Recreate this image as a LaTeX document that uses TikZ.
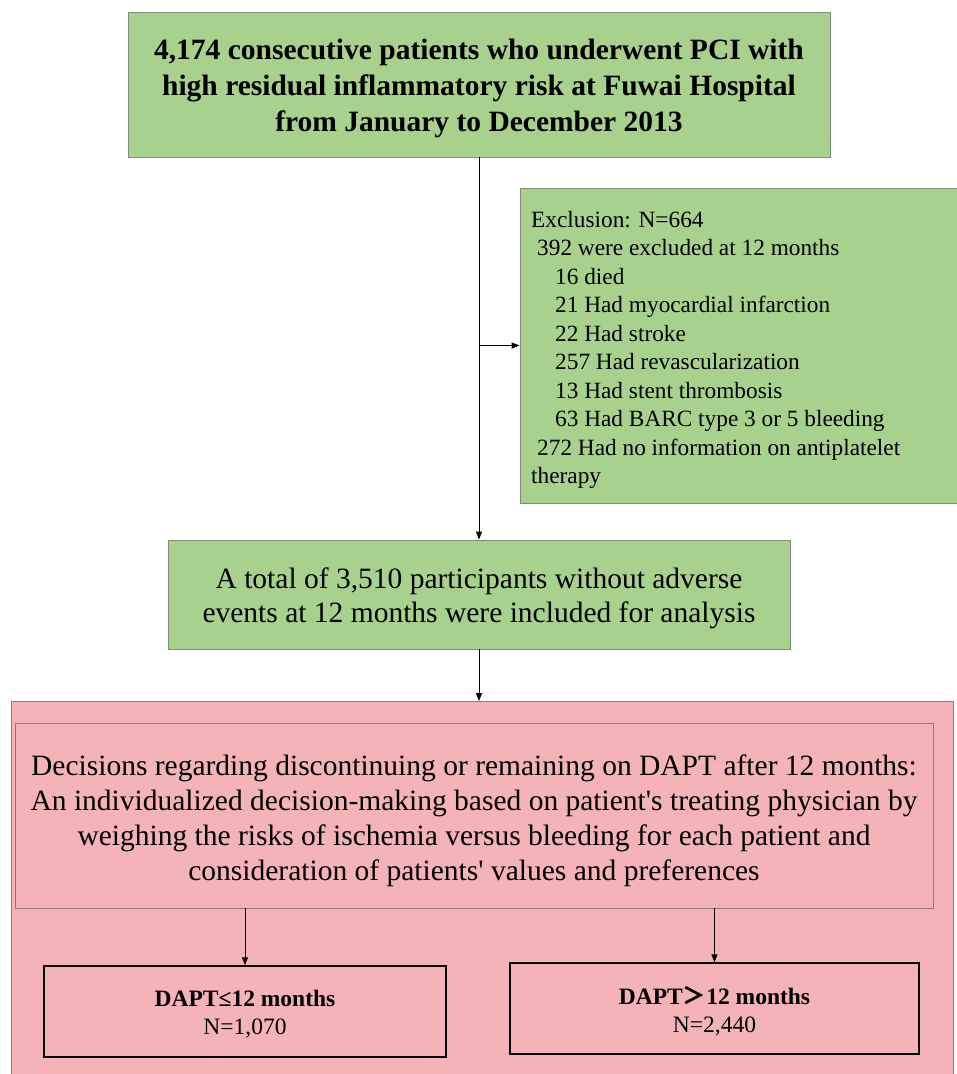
\documentclass[tikz,border=0pt]{standalone}
\usepackage{fontspec}
\setmainfont{Liberation Serif}
\newfontfamily\cjk{Noto Sans CJK SC}
\usetikzlibrary{arrows.meta}
\definecolor{boxgreen}{HTML}{A9D18E}
\definecolor{boxpink}{HTML}{F4B3B7}
\definecolor{greenline}{HTML}{7F8F78}
\definecolor{pinkline}{HTML}{9A7478}
\tikzset{
  greenbox/.style={draw=greenline, fill=boxgreen, line width=0.9pt, inner sep=0pt},
  pinkbox/.style={draw=pinkline, fill=boxpink, line width=0.9pt, inner sep=0pt},
  resultbox/.style={draw=black, fill=boxpink, line width=1.4pt, inner sep=0pt},
  label/.style={inner sep=0pt, align=center},
  arr/.style={-{Triangle[length=8pt,width=6pt]}, line width=1pt, black},
}
\begin{document}
\begin{tikzpicture}[x=1pt,y=-1pt]
\useasboundingbox (0,0) rectangle (957,1074);
% boxes
\node[greenbox, minimum width=702pt, minimum height=145pt] (top) at (479,84.5) {};
\node[greenbox, minimum width=438pt, minimum height=315pt] (excl) at (739,345.5) {};
\node[greenbox, minimum width=622pt, minimum height=109pt] (incl) at (479,594.5) {};
\node[pinkbox, minimum width=942pt, minimum height=380pt, anchor=north] (outer) at (482,701) {};
\node[pinkbox, minimum width=918pt, minimum height=185pt] (dec) at (474,815.5) {};
\node[resultbox, minimum width=402pt, minimum height=91pt] (left) at (245,1011.5) {};
\node[resultbox, minimum width=409pt, minimum height=91pt] (right) at (714.5,1008.5) {};
% texts
\node[label, font=\fontsize{29.5}{36}\selectfont\bfseries] (toptext) at ([yshift=-4pt]top.center)
  {4,174 consecutive patients who underwent PCI with\\
   high residual inflammatory risk at Fuwai Hospital\\ from January to December 2013};
\node[anchor=north west, inner sep=0pt, align=left, font=\fontsize{23.3}{28.5}\selectfont] (excltext) at (531,211)
  {Exclusion: N=664\\
   \hspace*{6pt}392 were excluded at 12 months\\
   \hspace*{24pt}16 died\\
   \hspace*{24pt}21 Had myocardial infarction\\
   \hspace*{24pt}22 Had stroke\\
   \hspace*{24pt}257 Had revascularization\\
   \hspace*{24pt}13 Had stent thrombosis\\
   \hspace*{24pt}63 Had BARC type 3 or 5 bleeding\\
   \hspace*{6pt}272 Had no information on antiplatelet\\
   therapy};
\node[label, font=\fontsize{29.5}{34}\selectfont] (incltext) at ([yshift=-3.5pt]incl.center)
  {A total of 3,510 participants without adverse\\
   events at 12 months were included for analysis};
\node[label, font=\fontsize{29.5}{35}\selectfont] (dectext) at ([yshift=-5pt]dec.center)
  {Decisions regarding discontinuing or remaining on DAPT after 12 months:\\
   An individualized decision-making based on patient\textquotesingle s treating physician by\\
   weighing the risks of ischemia versus bleeding for each patient and\\
   consideration of patients\textquotesingle\ values and preferences};
\node[label, font=\fontsize{23.5}{28}\selectfont] (lefttext) at ([yshift=-2.5pt]left.center)
  {\textbf{DAPT≤12 months}\\ N=1,070};
\node[label, font=\fontsize{23.5}{28}\selectfont] (righttext) at ([yshift=-2.5pt]right.center)
  {\textbf{DAPT{\cjk\bfseries ＞}12 months}\\ N=2,440};
% connectors
\coordinate (branch) at (479,345.5);
\draw[arr] (top.south) -- (incl.north);
\draw[arr] (branch) -- (excl.west);
\draw[arr] (incl.south) -- (outer.north -| incl.south);
\draw[arr] (dec.south -| left.north) -- (left.north);
\draw[arr] (dec.south -| right.north) -- (right.north);
\end{tikzpicture}
\end{document}
